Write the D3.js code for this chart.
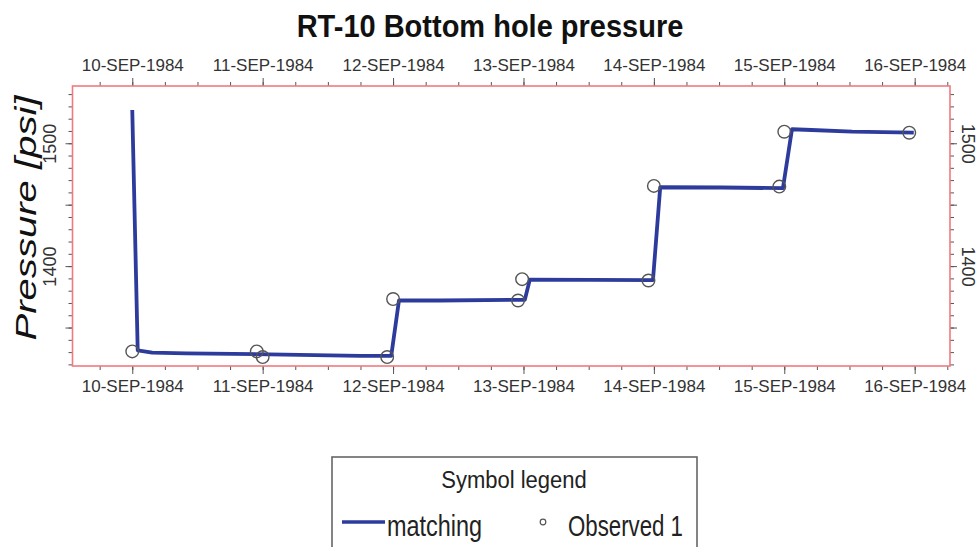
<!DOCTYPE html>
<html>
<head>
<meta charset="utf-8">
<script src="https://cdn.jsdelivr.net/npm/d3@7"></script>
<style>
	body { margin: 0; background: #fff; }
	svg { display: block; font-family: 'Liberation Sans', Arial, sans-serif; }
	.tick text { fill: #333; }
	.tick line { stroke: #555; }
</style>
</head>
<body>
<svg id="chart" width="979" height="547"></svg>
<script>
const parse = d3.utcParse('%Y-%m-%dT%H:%M');

// matching (simulated) curve
const MATCH_TIME = [
	'1984-09-10T00:00', '1984-09-10T01:00', '1984-09-10T03:40', '1984-09-10T10:00',
	'1984-09-11T04:00', '1984-09-11T18:00', '1984-09-11T23:40', '1984-09-12T01:05',
	'1984-09-12T08:30', '1984-09-13T00:15', '1984-09-13T01:10', '1984-09-13T23:50',
	'1984-09-14T01:10', '1984-09-14T12:30', '1984-09-14T23:45', '1984-09-15T01:25',
	'1984-09-15T05:00', '1984-09-15T12:30', '1984-09-15T23:50'
];
const MATCH_VALUE = [
	1527, 1331.5, 1329.6, 1329,
	1328, 1327, 1327, 1372,
	1372, 1372.6, 1389, 1388.6,
	1464.2, 1464, 1463.4, 1511.4,
	1510.8, 1509.4, 1508.6
];

// observed points
const OBS_TIME = [
	'1984-09-10T00:00', '1984-09-10T22:55', '1984-09-11T00:00', '1984-09-11T22:55',
	'1984-09-12T00:00', '1984-09-12T23:00', '1984-09-12T23:45', '1984-09-13T23:00',
	'1984-09-14T00:00', '1984-09-14T23:05', '1984-09-15T00:00', '1984-09-15T23:00'
];
const OBS_VALUE = [
	1330.6, 1330.6, 1326, 1326,
	1373.2, 1372, 1389.4, 1388.3,
	1465.3, 1464.7, 1509.4, 1508.6
];

const DAY_TICKS = ['1984-09-10', '1984-09-11', '1984-09-12', '1984-09-13', '1984-09-14', '1984-09-15', '1984-09-16'];
const Y_LABELS = [1400, 1500];
const X_DOMAIN = ['1984-09-09T13:00', '1984-09-16T06:30'];
const Y_DOMAIN = [1318.7, 1546.6];

const LEFT = 72.5, RIGHT = 950, TOP = 86, BOTTOM = 366;
const LINE_COLOR = '#2d3c9c';
const FRAME_COLOR = '#f07a80';

const matching = MATCH_TIME.map((t, i) => ({ date: parse(t), value: MATCH_VALUE[i] }));
const observed = OBS_TIME.map((t, i) => ({ date: parse(t), value: OBS_VALUE[i] }));
const days = DAY_TICKS.map(d => d3.utcParse('%Y-%m-%d')(d));

const x = d3.scaleUtc().domain(X_DOMAIN.map(parse)).range([LEFT, RIGHT]);
const y = d3.scaleLinear().domain(Y_DOMAIN).range([BOTTOM, TOP]);

const svg = d3.select('#chart');
const fmt = d => d3.utcFormat('%d-%b-%Y')(d).toUpperCase();

// title
svg.append('text')
	.attr('transform', 'translate(490,37) scale(1,1.06)')
	.attr('text-anchor', 'middle')
	.attr('font-size', 29).attr('font-weight', 'bold')
	.attr('fill', '#111')
	.text('RT-10 Bottom hole pressure');

const sixHours = d3.utcHour.every(6).range(x.domain()[0], x.domain()[1]);
const minorY = d3.range(1320, 1546, 10);
const majorY = d3.range(1350, 1546, 50);

function minor(axis) {
	return axis.tickFormat('').tickSizeInner(4).tickSizeOuter(0);
}

// top axis
svg.append('g').attr('transform', `translate(0,${TOP})`)
	.call(minor(d3.axisTop(x).tickValues(sixHours)));
svg.append('g').attr('transform', `translate(0,${TOP})`)
	.call(d3.axisTop(x).tickValues(days).tickFormat(fmt).tickSizeInner(8).tickSizeOuter(0).tickPadding(7))
	.attr('font-size', 17).attr('font-family', null);

// bottom axis
svg.append('g').attr('transform', `translate(0,${BOTTOM})`)
	.call(minor(d3.axisBottom(x).tickValues(sixHours)));
svg.append('g').attr('transform', `translate(0,${BOTTOM})`)
	.call(d3.axisBottom(x).tickValues(days).tickFormat(fmt).tickSizeInner(8).tickSizeOuter(0).tickPadding(6))
	.attr('font-size', 17).attr('font-family', null);

// left axis
svg.append('g').attr('transform', `translate(${LEFT},0)`)
	.call(minor(d3.axisLeft(y).tickValues(minorY)));
const yl = svg.append('g').attr('transform', `translate(${LEFT},0)`)
	.call(d3.axisLeft(y).tickValues(majorY).tickSizeInner(7).tickSizeOuter(0)
		.tickFormat(d => Y_LABELS.includes(d) ? d : ''))
	.attr('font-size', 18).attr('font-family', null);
yl.selectAll('.tick text')
	.attr('text-anchor', 'middle')
	.attr('x', 0).attr('dy', null)
	.attr('transform', 'translate(-17,0) rotate(-90)')
	.attr('fill', '#888');

// right axis
svg.append('g').attr('transform', `translate(${RIGHT},0)`)
	.call(minor(d3.axisRight(y).tickValues(minorY)));
const yr = svg.append('g').attr('transform', `translate(${RIGHT},0)`)
	.call(d3.axisRight(y).tickValues(majorY).tickSizeInner(7).tickSizeOuter(0)
		.tickFormat(d => Y_LABELS.includes(d) ? d : ''))
	.attr('font-size', 18).attr('font-family', null);
yr.selectAll('.tick text')
	.attr('text-anchor', 'middle')
	.attr('x', 0).attr('dy', null)
	.attr('transform', 'translate(12,0) rotate(90)');

svg.selectAll('.domain').remove();

// y label
svg.append('text')
	.attr('transform', 'translate(36,218) rotate(-90)')
	.attr('text-anchor', 'middle')
	.attr('font-size', 30).attr('font-style', 'italic')
	.attr('textLength', 245).attr('lengthAdjust', 'spacingAndGlyphs')
	.attr('fill', '#111')
	.text('Pressure [psi]');

// frame
svg.append('rect')
	.attr('x', LEFT).attr('y', TOP)
	.attr('width', RIGHT - LEFT).attr('height', BOTTOM - TOP)
	.attr('fill', 'none').attr('stroke', FRAME_COLOR).attr('stroke-width', 1.6);

// matching line
const line = d3.line().x(d => x(d.date)).y(d => y(d.value));
svg.append('path')
	.datum(matching)
	.attr('d', line)
	.attr('fill', 'none')
	.attr('stroke', LINE_COLOR).attr('stroke-width', 3.8)
	.attr('stroke-linejoin', 'round');

// observed points
svg.append('g').selectAll('circle')
	.data(observed)
	.join('circle')
	.attr('cx', d => x(d.date)).attr('cy', d => y(d.value))
	.attr('r', 6.3)
	.attr('fill', 'none')
	.attr('stroke', '#555').attr('stroke-width', 1.4);

// legend
const lg = svg.append('g');
lg.append('rect')
	.attr('x', 332).attr('y', 457)
	.attr('width', 365).attr('height', 100)
	.attr('fill', '#fff').attr('stroke', '#666').attr('stroke-width', 1.6);
lg.append('text')
	.attr('transform', 'translate(514,488) scale(1,1.1)')
	.attr('text-anchor', 'middle')
	.attr('font-size', 22).attr('fill', '#222')
	.text('Symbol legend');
lg.append('line')
	.attr('x1', 342).attr('x2', 385).attr('y1', 522).attr('y2', 522)
	.attr('stroke', LINE_COLOR).attr('stroke-width', 3.5);
lg.append('text')
	.attr('transform', 'translate(387,536) scale(1,1.25)')
	.attr('font-size', 23).attr('fill', '#222')
	.attr('textLength', 95).attr('lengthAdjust', 'spacingAndGlyphs')
	.text('matching');
lg.append('circle')
	.attr('cx', 543).attr('cy', 522).attr('r', 2.8)
	.attr('fill', 'none').attr('stroke', '#555').attr('stroke-width', 1.2);
lg.append('text')
	.attr('transform', 'translate(568,536) scale(1,1.25)')
	.attr('font-size', 23).attr('fill', '#222')
	.attr('textLength', 115).attr('lengthAdjust', 'spacingAndGlyphs')
	.text('Observed 1');
</script>
</body>
</html>
